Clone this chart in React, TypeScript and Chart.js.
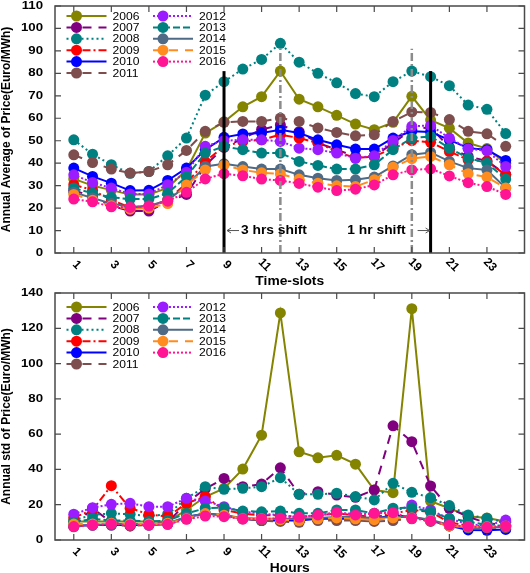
import React, { useEffect, useRef } from 'react';
import { Chart, registerables } from 'chart.js';

Chart.register(...registerables);

// ---- data -------------------------------------------------------------
const hours = [1, 2, 3, 4, 5, 6, 7, 8, 9, 10, 11, 12, 13, 14, 15, 16, 17, 18, 19, 20, 21, 22, 23, 24];
const hourTicks = [1, 3, 5, 7, 9, 11, 13, 15, 17, 19, 21, 23];
const years = ['2006', '2007', '2008', '2009', '2010', '2011', '2012', '2013', '2014', '2015', '2016'];

const avgTicks = [0, 10, 20, 30, 40, 50, 60, 70, 80, 90, 100, 110];
const stdTicks = [0, 20, 40, 60, 80, 100, 120, 140];

// annual average price per hour (Euro/MWh)
const avg2006 = [33, 30, 28, 26, 26, 29, 37, 53.4, 58.4, 65.1, 69.6, 81, 68.5, 65.1, 61.3, 57.4, 54.9, 58.2, 69.8, 59.2, 55.6, 49, 46.5, 40];
const avg2007 = [28, 25, 21, 18.7, 18.7, 22.8, 26.1, 39, 47, 51, 55, 57, 54, 49, 46, 43, 43, 49, 55, 56, 47, 43, 41, 35];
const avg2008 = [50.4, 44, 39.3, 35.5, 36.3, 43.3, 51.2, 70.3, 76.3, 81.9, 86.2, 93.4, 85, 80, 75.8, 71, 69.6, 76.3, 81, 78.5, 74.5, 65.9, 64, 53.2];
const avg2009 = [30.4, 28, 23.6, 20.3, 20.6, 23.6, 31, 40.7, 47.5, 49.7, 50.4, 52.7, 51.2, 49, 45.2, 42.3, 43, 46.7, 50, 49.3, 45.2, 41.5, 40.8, 34.8];
const avg2010 = [37.8, 34.1, 31.1, 27.8, 27.9, 32.3, 37.8, 46, 51.5, 53, 53.4, 54.9, 53.4, 50.4, 48.2, 46.3, 46.3, 51.2, 54.2, 53.9, 50.4, 46.7, 46, 41.2];
const avg2011 = [43.7, 40.3, 37.4, 35.6, 36.3, 39.3, 45.7, 54.2, 58.2, 58.6, 58.6, 60.1, 58.6, 55.7, 53.7, 52.2, 52.7, 58.6, 62.8, 62.6, 59.4, 54.2, 53.1, 47.5];
const avg2012 = [34.8, 31.4, 28.9, 26.3, 26.3, 30.4, 36, 47.5, 50, 50.4, 50.4, 49.7, 46.7, 46, 44.5, 42.2, 43.3, 50.1, 56.4, 56.8, 51.2, 46.4, 45.5, 38.5];
const avg2013 = [28.9, 26.6, 24.8, 24, 24, 26.6, 34, 44.5, 47.5, 46, 44.5, 44.5, 40.8, 39, 37.4, 37.4, 39.3, 46, 51.2, 51.9, 46.7, 42.3, 40, 32.9];
const avg2014 = [27, 24.5, 22, 20.5, 21, 23.5, 30, 38.5, 39.7, 38.5, 37.4, 37.4, 34.8, 33.3, 32.3, 32.6, 33.8, 38.8, 43.8, 44.8, 40.8, 37.8, 37, 29];
const avg2015 = [26.1, 23.5, 21, 19.5, 20, 22, 30.3, 37, 39.1, 37, 35.7, 35.2, 32.9, 31.1, 29.9, 29.6, 32.6, 38.2, 42, 43, 39.3, 35.3, 33.8, 28.9];
const avg2016 = [24, 22.8, 20.6, 20.3, 20.9, 23.1, 27, 33, 35.3, 34.4, 32.9, 32.3, 31, 29.3, 27.8, 28.4, 30.3, 34.8, 37, 37.5, 34.3, 31.3, 29.6, 26.1];

// annual standard deviation of price per hour (Euro/MWh)
const std2006 = [10.5, 10.5, 10.5, 10.5, 10.5, 10.5, 17, 24.5, 29.2, 40.2, 59.4, 128.7, 50, 46.6, 48, 43, 28.3, 26.8, 131.1, 22, 18, 13.5, 12.5, 10.5];
const std2007 = [8, 18, 10, 8, 9, 10, 21, 29, 34.9, 30.2, 31.7, 40.9, 26, 27.4, 25.5, 24.2, 28.4, 64.7, 55.7, 30.6, 18, 13.2, 9.5, 8.5];
const std2008 = [11.3, 14.2, 15.1, 14.6, 13.6, 14.6, 23.6, 30.2, 28.7, 29.3, 30.2, 35.3, 25.9, 25.9, 26.5, 24.6, 22.7, 32.1, 27, 24, 19.5, 14.2, 12.3, 10];
const std2009 = [12.7, 17, 30.8, 18, 14.6, 13.2, 20.8, 24.6, 17, 15, 14, 14, 13, 14, 15, 14, 13, 15, 17, 16, 10, 8, 8, 8];
const std2010 = [8, 8.5, 8.5, 8.5, 8.5, 9, 13, 15, 14, 12, 11, 11, 11, 12, 12, 12, 12, 14, 13, 11, 8, 5.7, 5.5, 6];
const std2011 = [7.5, 8.5, 8.5, 8, 8.5, 9, 12, 14, 14, 12, 11, 10.5, 10, 11, 11, 11, 10.5, 11, 12, 10.5, 8, 7, 7, 7];
const std2012 = [14.6, 18.3, 20.2, 20.8, 18.9, 18.9, 23.6, 22.1, 18.9, 16, 15, 14, 13, 14, 15, 15, 15, 16, 19.8, 17, 12, 9, 8, 11.3];
const std2013 = [10, 12, 11, 11, 10.5, 11, 15, 18, 18.3, 16.4, 16, 16.4, 15.1, 15.1, 17, 17, 15.1, 18, 18.3, 16, 12.3, 10.4, 8.5, 8];
const std2014 = [8, 8.5, 9, 9, 9, 9.5, 13, 15, 14, 12.5, 12, 12, 12, 12.5, 13, 13, 12.5, 13, 13, 11.5, 8.5, 7, 7, 7.5];
const std2015 = [9, 9, 9.5, 9, 9, 9.5, 12, 15, 14, 12, 12, 11.5, 11, 12, 12.5, 12, 11.5, 12.5, 12.5, 11, 8, 7.5, 7.5, 8];
const std2016 = [7.6, 8.5, 9.1, 8.5, 8.5, 8.9, 11.7, 13.6, 13.2, 11.9, 11.9, 12.3, 12.9, 14.2, 15.7, 14.2, 15.1, 15.5, 12.3, 10.8, 8.5, 7.6, 7.2, 7.9];

// vertical guides (hour, height in Euro/MWh) and the shift notes
const actualPeaks = [9, 20];
const actualPeakTop = 81;
const pricePeaks = [12, 19];
const pricePeakTop = 91;
const shiftNotes = [
  { text: '3 hrs shift', hour: 9, level: 10, side: 'right' },
  { text: '1 hr shift', hour: 20, level: 10, side: 'left' },
];

// ---- styles -----------------------------------------------------------
const yearStyles = [
  { color: '#848400', dash: [] as number[] },
  { color: '#800080', dash: [9, 7] },
  { color: '#008080', dash: [2, 3] },
  { color: '#ff0000', dash: [8, 3, 2, 3] },
  { color: '#0000ff', dash: [] as number[] },
  { color: '#7e4d4d', dash: [9, 7] },
  { color: '#9a1cff', dash: [2, 2] },
  { color: '#008080', dash: [7, 3] },
  { color: '#4f6a84', dash: [] as number[] },
  { color: '#ff8c1e', dash: [9, 7] },
  { color: '#ff1493', dash: [2, 2] },
];

const FONT = '"Liberation Sans", Arial, Helvetica, sans-serif';

function text(ctx: CanvasRenderingContext2D, s: string, x: number, y: number, align: CanvasTextAlign, font: string, sx = 1.15) {
  ctx.save();
  ctx.font = font;
  ctx.textAlign = align;
  ctx.textBaseline = 'middle';
  ctx.translate(x, y);
  ctx.scale(sx, 1);
  ctx.fillText(s, 0, 0);
  ctx.restore();
}

type Panel = {
  series: number[][];
  yMax: number;
  yTicks: number[];
  yTitle: string;
  xTitle: string;
  legendTop: number;
  padTop: number;
  padBottom: number;
  guides: boolean;
};

function framePlugin(p: Panel) {
  return {
    id: 'gnuFrame',
    afterDatasetsDraw(chart: any) {
      const { ctx, chartArea: a } = chart;
      const xs = chart.scales.x;
      const ys = chart.scales.y;
      ctx.save();

      if (p.guides) {
        // dash-dot guides at the price peaks
        ctx.strokeStyle = '#8c8c8c';
        ctx.lineWidth = 2.5;
        ctx.setLineDash([8, 3, 2, 3]);
        for (const h of pricePeaks) {
          const px = xs.getPixelForValue(h);
          ctx.beginPath();
          ctx.moveTo(px, ys.getPixelForValue(0));
          ctx.lineTo(px, ys.getPixelForValue(pricePeakTop));
          ctx.stroke();
        }
        // solid guides at the shifted peaks
        ctx.setLineDash([]);
        ctx.strokeStyle = '#000';
        ctx.lineWidth = 3;
        for (const h of actualPeaks) {
          const px = xs.getPixelForValue(h);
          ctx.beginPath();
          ctx.moveTo(px, ys.getPixelForValue(0));
          ctx.lineTo(px, ys.getPixelForValue(actualPeakTop));
          ctx.stroke();
        }
        // notes with arrows
        ctx.fillStyle = '#000';
        for (const n of shiftNotes) {
          const px = xs.getPixelForValue(n.hour);
          const py = ys.getPixelForValue(n.level);
          const dir = n.side === 'right' ? 1 : -1;
          const tip = px + dir * (dir > 0 ? 3 : 1);
          const tail = tip + dir * 12;
          ctx.strokeStyle = '#555';
          ctx.lineWidth = 1;
          ctx.beginPath();
          ctx.moveTo(tail, py);
          ctx.lineTo(tip, py);
          ctx.moveTo(tip + dir * 4, py - 2.5);
          ctx.lineTo(tip, py);
          ctx.lineTo(tip + dir * 4, py + 2.5);
          ctx.stroke();
          const tx = dir > 0 ? tail + 2 : tail - 12;
          text(ctx, n.text, tx, py, dir > 0 ? 'left' : 'right', `bold 12px ${FONT}`);
        }
      }

      // border with inward ticks on all sides
      ctx.setLineDash([]);
      ctx.strokeStyle = '#4a4a4a';
      ctx.lineWidth = 1.5;
      ctx.strokeRect(a.left, a.top, a.right - a.left, a.bottom - a.top);
      ctx.lineWidth = 1.2;
      ctx.beginPath();
      for (const v of hourTicks) {
        const px = xs.getPixelForValue(v);
        ctx.moveTo(px, a.bottom);
        ctx.lineTo(px, a.bottom - 6);
        ctx.moveTo(px, a.top);
        ctx.lineTo(px, a.top + 6);
      }
      for (const v of p.yTicks) {
        const py = ys.getPixelForValue(v);
        ctx.moveTo(a.left, py);
        ctx.lineTo(a.left + 6, py);
        ctx.moveTo(a.right, py);
        ctx.lineTo(a.right - 6, py);
      }
      ctx.stroke();

      // tick labels
      ctx.fillStyle = '#000';
      for (const v of p.yTicks) {
        text(ctx, String(v), a.left - 12, ys.getPixelForValue(v), 'right', `bold 11px ${FONT}`, 1.2);
      }
      for (const v of hourTicks) {
        const px = xs.getPixelForValue(v);
        ctx.save();
        ctx.translate(px + 3, a.bottom + 12);
        ctx.rotate(Math.PI / 4);
        ctx.font = `bold 12px ${FONT}`;
        ctx.textAlign = 'center';
        ctx.textBaseline = 'middle';
        ctx.fillText(String(v), 0, 0);
        ctx.restore();
      }

      // axis titles
      text(ctx, p.xTitle, (a.left + a.right) / 2, a.bottom + 29, 'center', `bold 12px ${FONT}`);
      ctx.save();
      ctx.translate(7, (a.top + a.bottom) / 2);
      ctx.rotate(-Math.PI / 2);
      ctx.font = `bold 12px ${FONT}`;
      ctx.textAlign = 'center';
      ctx.textBaseline = 'middle';
      ctx.fillText(p.yTitle, 0, 0);
      ctx.restore();

      // key: two columns
      years.forEach((yr, i) => {
        const col = i < 6 ? 0 : 1;
        const row = i < 6 ? i : i - 6;
        const x0 = a.left + (col === 0 ? 11.5 : 98);
        const y0 = a.top + p.legendTop + row * 11.4;
        const st = yearStyles[i];
        ctx.strokeStyle = st.color;
        ctx.lineWidth = 2;
        ctx.setLineDash(st.dash);
        ctx.beginPath();
        ctx.moveTo(x0, y0);
        ctx.lineTo(x0 + 40, y0);
        ctx.stroke();
        ctx.setLineDash([]);
        ctx.fillStyle = st.color;
        ctx.beginPath();
        ctx.arc(x0 + 10, y0, 5.5, 0, Math.PI * 2);
        ctx.fill();
        ctx.fillStyle = '#000';
        text(ctx, yr, x0 + 46, y0 + 0.5, 'left', `11px ${FONT}`, 1.1);
      });

      ctx.restore();
    },
  };
}

function buildPanel(canvas: HTMLCanvasElement, p: Panel) {
  const datasets = p.series.map((vals, i) => ({
    label: years[i],
    data: hours.map((h, k) => ({ x: h, y: vals[k] })),
    borderColor: yearStyles[i].color,
    backgroundColor: yearStyles[i].color,
    borderWidth: 2,
    borderDash: yearStyles[i].dash,
    pointRadius: 5.5,
    pointBackgroundColor: yearStyles[i].color,
    pointBorderColor: yearStyles[i].color,
    pointBorderWidth: 0,
    tension: 0,
    fill: false,
    order: p.series.length - i,
  }));
  return new Chart(canvas, {
    type: 'line',
    data: { datasets },
    options: {
      responsive: false,
      animation: false,
      devicePixelRatio: 1,
      layout: { padding: { left: 55, right: 5, top: p.padTop, bottom: p.padBottom } },
      plugins: { legend: { display: false }, tooltip: { enabled: false } },
      scales: {
        x: { type: 'linear', min: 0, max: 25, display: false },
        y: { type: 'linear', min: 0, max: p.yMax, display: false },
      },
    },
    plugins: [framePlugin(p)],
  } as any);
}

const avgPanel: Panel = {
  series: [avg2006, avg2007, avg2008, avg2009, avg2010, avg2011, avg2012, avg2013, avg2014, avg2015, avg2016],
  yMax: 110,
  yTicks: avgTicks,
  yTitle: 'Annual Average of Price(Euro/MWh)',
  xTitle: 'Time-slots',
  legendTop: 10,
  padTop: 6,
  padBottom: 34,
  guides: true,
};

const stdPanel: Panel = {
  series: [std2006, std2007, std2008, std2009, std2010, std2011, std2012, std2013, std2014, std2015, std2016],
  yMax: 140,
  yTicks: stdTicks,
  yTitle: 'Annual std of Price(Euro/MWh)',
  xTitle: 'Hours',
  legendTop: 14,
  padTop: 6,
  padBottom: 33,
  guides: false,
};

export default function App() {
  const topRef = useRef<HTMLCanvasElement>(null);
  const bottomRef = useRef<HTMLCanvasElement>(null);

  useEffect(() => {
    const charts = [buildPanel(topRef.current!, avgPanel), buildPanel(bottomRef.current!, stdPanel)];
    return () => charts.forEach((c) => c.destroy());
  }, []);

  return (
    <div style={{ position: 'absolute', left: 0, top: 0, width: 530, height: 573, background: '#fff' }}>
      <canvas ref={topRef} width={530} height={287} style={{ display: 'block' }} />
      <canvas ref={bottomRef} width={530} height={286} style={{ display: 'block' }} />
    </div>
  );
}
